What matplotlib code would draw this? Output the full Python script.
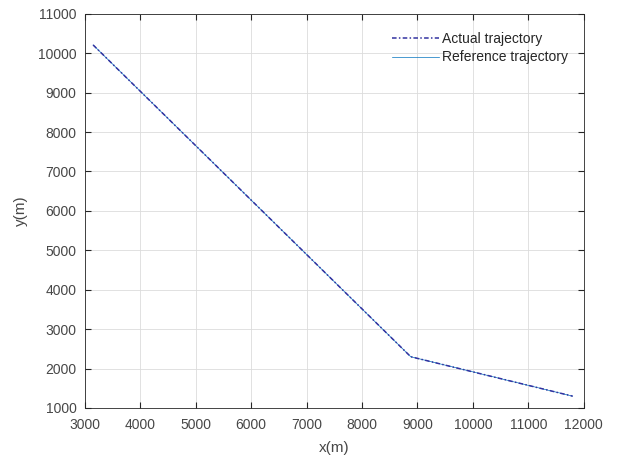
import matplotlib
matplotlib.use('Agg')
import matplotlib.pyplot as plt

plt.rcParams['font.family'] = ['Liberation Sans', 'DejaVu Sans']

# traiettoria (m)
x_ref = [3150, 8880, 11800]
y_ref = [10210, 2300, 1300]
x_act = [3150, 8880, 11800]
y_act = [10210, 2300, 1300]

fig = plt.figure(figsize=(6.19, 4.61), dpi=100)
ax = fig.add_axes([0.137, 0.115, 0.806, 0.855])

l1, = ax.plot(x_act, y_act, linestyle=(0, (3, 1.5, 1, 1.5)), color='#3333A0', linewidth=1.1,
              label='Actual trajectory', zorder=3)
l2, = ax.plot(x_ref, y_ref, linestyle='-', color='#0072BD', linewidth=0.5,
              label='Reference trajectory', zorder=2)

ax.set_xlim(3000, 12000)
ax.set_ylim(1000, 11000)
ax.set_xticks(range(3000, 12001, 1000))
ax.set_yticks(range(1000, 11001, 1000))
ax.grid(True, color='#DCDCDC', linewidth=0.6)
ax.set_axisbelow(True)
ax.tick_params(direction='in', length=4, color='#262626', labelcolor='#474747', labelsize=10,
               top=True, right=True, labeltop=False, labelright=False)
ax.tick_params(axis='x', pad=7.5)
ax.tick_params(axis='y', pad=6)
for s in ax.spines.values():
    s.set_color('#262626')
    s.set_linewidth(0.6)

ax.set_xlabel('x(m)', fontsize=11, color='#474747', labelpad=6)
ax.set_ylabel('y(m)', fontsize=11, color='#474747', labelpad=7)

leg = ax.legend(handles=[l1, l2], loc='upper right', frameon=False, fontsize=10, handlelength=3.4,
                handletextpad=0.2, labelspacing=0.3, bbox_to_anchor=(0.993, 0.985))
for t in leg.get_texts():
    t.set_color('#262626')

fig.savefig('out.png', dpi=100)
